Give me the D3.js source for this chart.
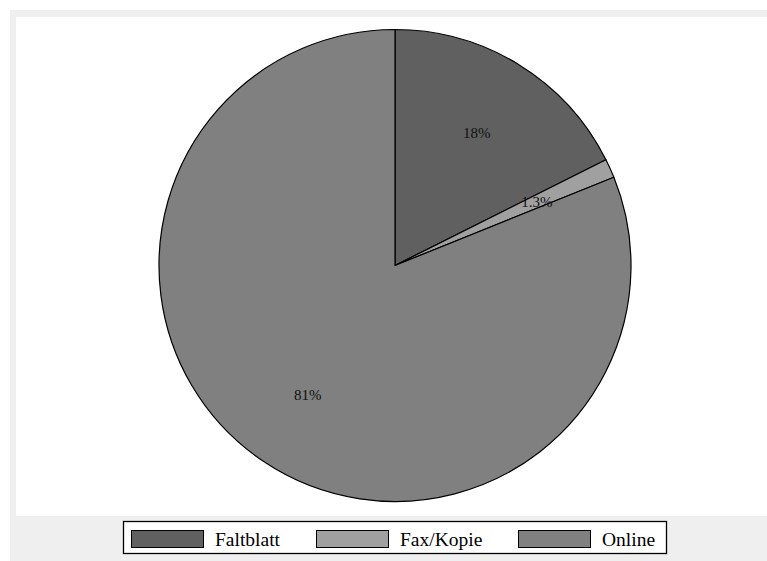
<!DOCTYPE html>
<html>
<head>
<meta charset="utf-8">
<script src="https://cdn.jsdelivr.net/npm/d3@7"></script>
<style>
  body { margin: 0; background: #fff; overflow: hidden; }
</style>
</head>
<body>
<div id="chart"></div>
<script>
// slice shares in percent, in drawing order (clockwise from 12 o'clock)
const categories = ["Faltblatt", "Fax/Kopie", "Online"]
const shares = [17.6, 1.3, 81.1]
const labels = ["18%", "1.3%", "81%"]
const colors = ["#606060", "#a0a0a0", "#808080"]

const FONT = "'Liberation Serif', 'Times New Roman', 'DejaVu Serif', serif"

drawPie()

function drawPie() {
    let width = 767
    let height = 561

    let svg = d3.select("#chart")
        .append("svg")
        .attr("width", width)
        .attr("height", height)
        .style("display", "block")

    // outer graph region and white plot region
    svg.append("rect")
        .attr("x", 10).attr("y", 10)
        .attr("width", width - 10).attr("height", height - 10)
        .attr("fill", "#efefef")
    svg.append("rect")
        .attr("x", 16).attr("y", 17)
        .attr("width", width - 16).attr("height", 499)
        .attr("fill", "#ffffff")

    let cx = 395, cy = 265.5, radius = 236

    let pie = d3.pie().sort(null).value(d => d)
    let arcs = pie(shares)
    let arc = d3.arc().innerRadius(0).outerRadius(radius)
    let labelArc = d3.arc().innerRadius(radius * 0.66).outerRadius(radius * 0.66)

    let g = svg.append("g").attr("transform", `translate(${cx},${cy})`)

    g.selectAll("path")
        .data(arcs)
        .enter()
        .append("path")
        .attr("d", arc)
        .attr("fill", (d, i) => colors[i])
        .attr("stroke", "#000")
        .attr("stroke-width", 1.2)
        .attr("stroke-linejoin", "round")

    g.selectAll("text.lab")
        .data(arcs)
        .enter()
        .append("text")
        .attr("class", "lab")
        .attr("transform", d => `translate(${labelArc.centroid(d)})`)
        .attr("text-anchor", "middle")
        .attr("dy", "0.35em")
        .attr("font-family", FONT)
        .attr("font-size", 15)
        .attr("fill", "#111")
        .text((d, i) => labels[i])

    // legend
    let legend = svg.append("g")
    legend.append("rect")
        .attr("x", 123.5).attr("y", 521.5)
        .attr("width", 543).attr("height", 32)
        .attr("fill", "#fff")
        .attr("stroke", "#000")
        .attr("stroke-width", 1.3)

    let keyX = [131, 316, 518]
    categories.forEach((c, i) => {
        legend.append("rect")
            .attr("x", keyX[i] + 0.5).attr("y", 530.5)
            .attr("width", 72).attr("height", 17)
            .attr("fill", colors[i])
            .attr("stroke", "#000")
            .attr("stroke-width", 1)
        legend.append("text")
            .attr("x", keyX[i] + 84)
            .attr("y", 539)
            .attr("dy", "0.35em")
            .attr("font-family", FONT)
            .attr("font-size", 19.5)
            .attr("fill", "#000")
            .text(c)
    })
}
</script>
</body>
</html>
